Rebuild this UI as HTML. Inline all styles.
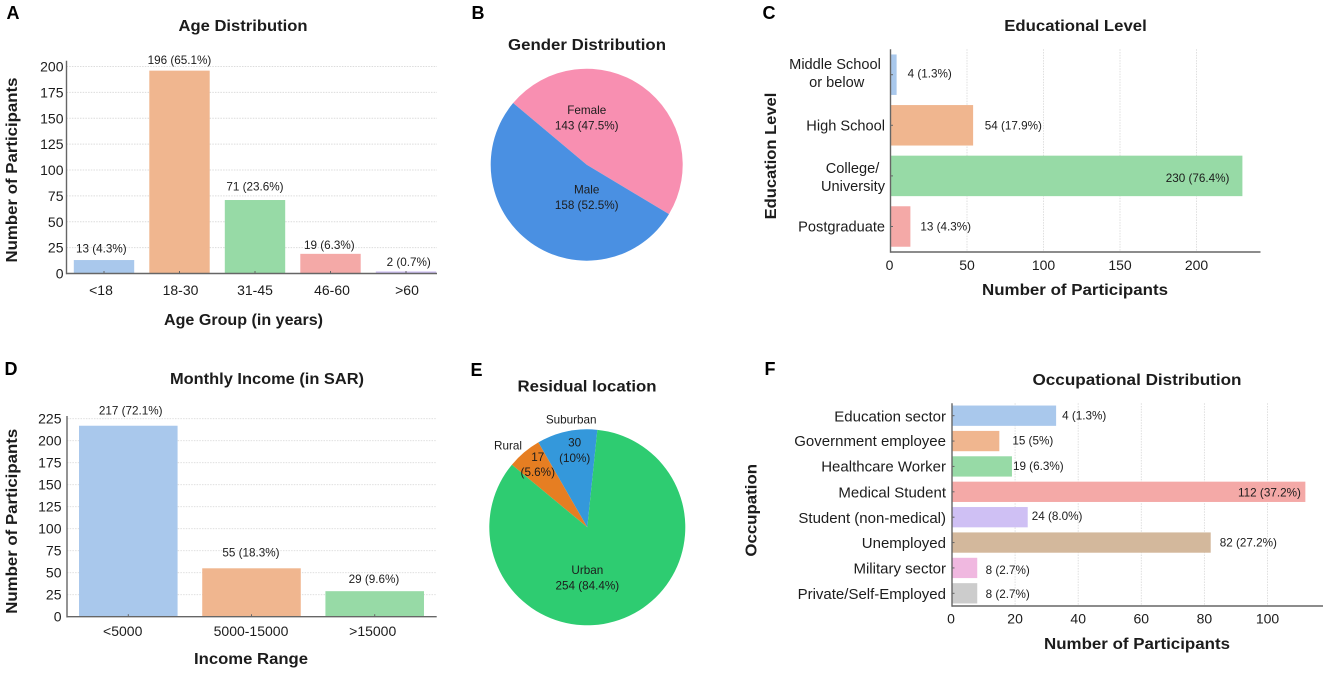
<!DOCTYPE html>
<html lang="en">
<head>
<meta charset="utf-8">
<title>Participant demographics</title>
<style>
html,body{margin:0;padding:0;background:#fff;width:1325px;height:673px;overflow:hidden}
svg{display:block;font-family:"Liberation Sans",Arial,sans-serif}
</style>
</head>
<body>
<svg id="fig" width="1325" height="673" viewBox="0 0 1325 673" xmlns="http://www.w3.org/2000/svg"></svg>
<script>
// Panel A
const ageCategories = ['<18', '18-30', '31-45', '46-60', '>60'];
const ageCounts = [13, 196, 71, 19, 2];
const ageLabels = ['13 (4.3%)', '196 (65.1%)', '71 (23.6%)', '19 (6.3%)', '2 (0.7%)'];
const ageTicks = [0, 25, 50, 75, 100, 125, 150, 175, 200];
// Panel B
const genderCategories = ['Female', 'Male'];
const genderCounts = [143, 158];
const genderLabels = ['143 (47.5%)', '158 (52.5%)'];
// Panel C
const eduCategories = [['Middle School', 'or below'], ['High School'], ['College/', 'University'], ['Postgraduate']];
const eduCounts = [4, 54, 230, 13];
const eduLabels = ['4 (1.3%)', '54 (17.9%)', '230 (76.4%)', '13 (4.3%)'];
const eduTicks = [0, 50, 100, 150, 200];
// Panel D
const incomeCategories = ['<5000', '5000-15000', '>15000'];
const incomeCounts = [217, 55, 29];
const incomeLabels = ['217 (72.1%)', '55 (18.3%)', '29 (9.6%)'];
const incomeTicks = [0, 25, 50, 75, 100, 125, 150, 175, 200, 225];
// Panel E
const locationCategories = ['Suburban', 'Rural', 'Urban'];
const locationCounts = [30, 17, 254];
const locationLabels = [['30', '(10%)'], ['17', '(5.6%)'], ['254 (84.4%)']];
// Panel F
const occCategories = [['Education sector'], ['Government employee'], ['Healthcare Worker'], ['Medical Student'], ['Student (non-medical)'], ['Unemployed'], ['Military sector'], ['Private/Self-Employed']];
const occCounts = [33, 15, 19, 112, 24, 82, 8, 8];
const occLabels = ['4 (1.3%)', '15 (5%)', '19 (6.3%)', '112 (37.2%)', '24 (8.0%)', '82 (27.2%)', '8 (2.7%)', '8 (2.7%)'];
const occTicks = [0, 20, 40, 60, 80, 100];

const NS = 'http://www.w3.org/2000/svg';
const BAR_COLORS = ['#A9C8EC', '#F0B68F', '#97DAA6', '#F4A9A7', '#CFC0F4', '#D3B89C', '#F0B8E0', '#CCCCCC'];
const AXIS = '#666666', GRID = '#dcdcdc', INK = '#1c1c1c';
const fig = document.getElementById('fig');

function make(parent, tag, name) {
  const el = document.createElementNS(NS, tag);
  
  
  parent.appendChild(el);
  return el;
}
function panel(name) { return make(fig, 'g', name); }
function setAll(el, props) { for (const k in props) el.setAttribute(k, props[k]); return el; }
function text(parent, name, str, x, y, size, o) {
  o = o || {};
  const el = make(parent, 'text', name);
  setAll(el, { x: x, y: y, 'font-size': size, fill: o.fill || INK, 'text-anchor': o.anchor || 'middle' });
  if (o.bold) el.setAttribute('font-weight', 'bold');
  if (o.len) { el.setAttribute('textLength', o.len); el.setAttribute('lengthAdjust', 'spacingAndGlyphs'); }
  if (o.rotate) el.setAttribute('transform', 'rotate(-90 ' + x + ' ' + y + ')');
  el.textContent = str;
  return el;
}
function line(parent, name, x1, y1, x2, y2, stroke, width, dash) {
  const el = make(parent, 'line', name);
  setAll(el, { x1: x1, y1: y1, x2: x2, y2: y2, stroke: stroke, 'stroke-width': width });
  if (dash) el.setAttribute('stroke-dasharray', dash);
  return el;
}
function rect(parent, name, x, y, w, h, fill) {
  const el = make(parent, 'rect', name);
  setAll(el, { x: x, y: y, width: w, height: h, fill: fill });
  return el;
}

function columnChart(g, c) {
  const y = v => c.y0 - v * c.pxPerUnit;
  const step = (c.xEnd - c.xStart) / c.categories.length;
  const cx = i => c.xStart + step * (i + 0.5);
  c.ticks.forEach(t => {
    if (t > 0) line(g, 'y-gridline-' + t, c.axisX, y(t), c.axisEnd, y(t), GRID, 0.9, '1.5 1.2');
    text(g, 'y-tick-label-' + t, String(t), c.tickRight, y(t) + 5, 14, { anchor: 'end' });
  });
  c.values.forEach((v, i) => {
    const w = step * 0.8;
    rect(g, 'bar-' + c.categories[i], cx(i) - w / 2, y(v), w, v * c.pxPerUnit, BAR_COLORS[i]);
    line(g, 'x-tick-' + c.categories[i], cx(i), c.y0 - 2.5, cx(i), c.y0, AXIS, 1);
    text(g, 'value-label-' + c.categories[i], c.labels[i], cx(i) + c.valueDx[i], y(v) - c.valueGap[i], 11.7);
    text(g, 'x-tick-label-' + c.categories[i], c.categories[i], cx(i) + c.catDx[i], c.catBaseline, 14);
  });
  line(g, 'y-axis-line', c.axisX, c.axisTop, c.axisX, c.y0 + 0.8, AXIS, 1.4);
  line(g, 'x-axis-line', c.axisX, c.y0, c.axisEnd, c.y0, AXIS, 1.4);
}

function barChart(g, c) {
  const x = v => c.x0 + v * c.pxPerUnit;
  const step = (c.yEnd - c.yStart) / c.categories.length;
  const cy = i => c.yStart + step * (i + 0.5);
  c.ticks.forEach(t => {
    if (t > 0) line(g, 'x-gridline-' + t, x(t), c.axisTop, x(t), c.axisBottom, GRID, 0.9, '1.5 1.2');
    text(g, 'x-tick-label-' + t, String(t), x(t) - (t === 0 ? 1 : 0), c.tickBaseline, 14);
  });
  c.values.forEach((v, i) => {
    const h = step * 0.8;
    const cat = c.categories[i];
    rect(g, 'bar-' + cat.join('-'), c.x0, cy(i) - h / 2, v * c.pxPerUnit, h, BAR_COLORS[i]);
    line(g, 'y-tick-' + cat.join('-'), c.x0, cy(i), c.x0 + 2.5, cy(i), AXIS, 1);
    const gap = c.valueGap[i];
    text(g, 'value-label-' + cat.join('-'), c.labels[i], x(v) + gap, cy(i) + 4 + c.valueDy[i], 11.7, { anchor: gap < 0 ? 'end' : 'start' });
    cat.forEach((part, k) => {
      const yy = cy(i) + 5 + c.catDy[i] + (k - (cat.length - 1) / 2) * 18.3;
      if (c.catCenter && c.catCenter[part] !== undefined) {
        text(g, 'y-tick-label-' + part, part, c.catCenter[part], yy, c.catSize);
      } else {
        text(g, 'y-tick-label-' + part, part, c.catRight, yy, c.catSize, { anchor: 'end' });
      }
    });
  });
  line(g, 'y-axis-line', c.x0, c.axisTop, c.x0, c.axisBottom + 0.8, AXIS, 1.4);
  line(g, 'x-axis-line', c.x0, c.axisBottom, c.axisEnd, c.axisBottom, AXIS, 1.4);
}

function pieChart(g, c) {
  const total = c.values.reduce((a, b) => a + b, 0);
  let a = c.startDeg;
  c.values.forEach((v, i) => {
    const sweep = v / total * 360;
    const a0 = a * Math.PI / 180, a1 = (a + sweep) * Math.PI / 180, mid = (a + sweep / 2) * Math.PI / 180;
    const path = make(g, 'path', 'slice-' + c.categories[i]);
    path.setAttribute('d', 'M' + c.cx + ' ' + c.cy +
      'L' + (c.cx + c.r * Math.cos(a0)) + ' ' + (c.cy - c.r * Math.sin(a0)) +
      'A' + c.r + ' ' + c.r + ' 0 ' + (sweep > 180 ? 1 : 0) + ' 0 ' +
      (c.cx + c.r * Math.cos(a1)) + ' ' + (c.cy - c.r * Math.sin(a1)) + 'Z');
    path.setAttribute('fill', c.colors[i]);
    c.marks.push({ mid: mid, i: i });
    a += sweep;
  });
  c.marks.forEach(m => {
    const i = m.i;
    const lx = c.cx + c.innerR * c.r * Math.cos(m.mid) + c.inNudge[i][0];
    const ly = c.cy - c.innerR * c.r * Math.sin(m.mid) + c.inNudge[i][1];
    const lines = c.inside[i];
    lines.forEach((s, k) => {
      text(g, 'slice-label-' + c.categories[i] + '-' + k, s, lx, ly + (k - (lines.length - 1) / 2) * 15.2, 11.7);
    });
    if (c.outNudge && c.outNudge[i]) {
      const ox = c.cx + 1.1 * c.r * Math.cos(m.mid) + c.outNudge[i][0];
      const oy = c.cy - 1.1 * c.r * Math.sin(m.mid) + c.outNudge[i][1];
      text(g, 'slice-name-' + c.categories[i], c.categories[i], ox, oy, 11.7);
    }
  });
}

/* ---------- Panel A ---------- */
const gA = panel('panel-a-age-distribution');
text(gA, 'panel-letter-a', 'A', 13, 19, 18, { bold: true, fill: '#000' });
text(gA, 'chart-title', 'Age Distribution', 243, 31, 16, { bold: true, len: 129 });
columnChart(gA, {
  categories: ageCategories, values: ageCounts, labels: ageLabels, ticks: ageTicks,
  y0: 273.5, pxPerUnit: 1.035, xStart: 66.25, xEnd: 443.75, axisX: 66.5, axisEnd: 437, axisTop: 60.7,
  tickRight: 63.5, catBaseline: 295,
  valueGap: [7.3, 6.5, 9.3, 5, 5.4], valueDx: [-2.7, 0, 0, -1.2, 2.7], catDx: [-3, 1, 0, 1.5, 1]
});
text(gA, 'x-axis-title', 'Age Group (in years)', 243.5, 325, 16, { bold: true, len: 159 });
text(gA, 'y-axis-title', 'Number of Participants', 17, 170, 16, { bold: true, rotate: true, len: 185 });

/* ---------- Panel B ---------- */
const gB = panel('panel-b-gender-distribution');
text(gB, 'panel-letter-b', 'B', 478, 19, 18, { bold: true, fill: '#000' });
text(gB, 'chart-title', 'Gender Distribution', 587, 50, 16, { bold: true, len: 158 });
pieChart(gB, {
  categories: genderCategories, values: genderCounts, marks: [],
  inside: genderCategories.map((n, i) => [n, genderLabels[i]]),
  colors: ['#F88FB1', '#4A90E2'], cx: 586.7, cy: 164.7, r: 96, startDeg: -31, innerR: 0.6,
  inNudge: [[-33.4, 3.9], [33.4, -10.4]]
});

/* ---------- Panel C ---------- */
const gC = panel('panel-c-educational-level');
text(gC, 'panel-letter-c', 'C', 769, 19, 18, { bold: true, fill: '#000' });
text(gC, 'chart-title', 'Educational Level', 1075.5, 31, 16, { bold: true, len: 142.5 });
barChart(gC, {
  categories: eduCategories, values: eduCounts, labels: eduLabels, ticks: eduTicks,
  x0: 890.5, pxPerUnit: 1.53, yStart: 49.4, yEnd: 251.8, axisTop: 49.3, axisBottom: 252, axisEnd: 1260.5,
  tickBaseline: 270, catRight: 885, catSize: 14.6,
  catCenter: { 'Middle School': 835, 'or below': 836.7, 'College/': 852.5 },
  catDy: [-1.8, 0, 1, 0],
  valueGap: [11, 11.6, -13, 10], valueDy: [-1, 0.4, 2, 0]
});
text(gC, 'x-axis-title', 'Number of Participants', 1075, 295, 16, { bold: true, len: 186 });
text(gC, 'y-axis-title', 'Education Level', 776, 156, 16, { bold: true, rotate: true, len: 126.7 });

/* ---------- Panel D ---------- */
const gD = panel('panel-d-monthly-income');
text(gD, 'panel-letter-d', 'D', 11, 375, 18, { bold: true, fill: '#000' });
text(gD, 'chart-title', 'Monthly Income (in SAR)', 267, 384, 16, { bold: true, len: 194 });
columnChart(gD, {
  categories: incomeCategories, values: incomeCounts, labels: incomeLabels, ticks: incomeTicks,
  y0: 616.7, pxPerUnit: 0.88, xStart: 66.7, xEnd: 436.3, axisX: 67, axisEnd: 436.7, axisTop: 416,
  tickRight: 61.5, catBaseline: 636,
  valueGap: [11.4, 11.6, 8], valueDx: [2.4, -0.5, -0.7], catDx: [-5.6, -0.5, -2]
});
text(gD, 'x-axis-title', 'Income Range', 251, 664, 16, { bold: true, len: 114 });
text(gD, 'y-axis-title', 'Number of Participants', 17, 521.3, 16, { bold: true, rotate: true, len: 185 });

/* ---------- Panel E ---------- */
const gE = panel('panel-e-residual-location');
text(gE, 'panel-letter-e', 'E', 476.5, 376, 18, { bold: true, fill: '#000' });
text(gE, 'chart-title', 'Residual location', 587, 391.7, 16, { bold: true, len: 139 });
pieChart(gE, {
  categories: locationCategories, values: locationCounts, marks: [],
  inside: [locationLabels[0], locationLabels[1], [locationCategories[2], locationLabels[2][0]]],
  colors: ['#3498DB', '#E67E22', '#2ECC71'], cx: 587.3, cy: 527.3, r: 98, startDeg: 84.1, innerR: 0.7,
  inNudge: [[1.7, -5.9], [-5.3, -6.5], [-25.9, -9]],
  outNudge: [[6.4, 1.4], [-9.8, 4.4], null]
});

/* ---------- Panel F ---------- */
const gF = panel('panel-f-occupational-distribution');
text(gF, 'panel-letter-f', 'F', 770, 375, 18, { bold: true, fill: '#000' });
text(gF, 'chart-title', 'Occupational Distribution', 1137, 385, 16, { bold: true, len: 209 });
barChart(gF, {
  categories: occCategories, values: occCounts, labels: occLabels, ticks: occTicks,
  x0: 952, pxPerUnit: 3.155, yStart: 403, yEnd: 606, axisTop: 403.3, axisBottom: 606, axisEnd: 1323,
  tickBaseline: 623.3, catRight: 946, catSize: 15,
  catDy: [0.6, 0, 0, 0.8, 0.8, 0.6, 0.6, 0.6],
  valueGap: [6, 13, 1, -4.5, 4, 9, 8.4, 8.4], valueDy: [-0.4, -0.6, -0.6, 0.6, -1.3, 0, 2, 0.6]
});
text(gF, 'x-axis-title', 'Number of Participants', 1137, 649, 16, { bold: true, len: 186 });
text(gF, 'y-axis-title', 'Occupation', 756.5, 510.3, 16, { bold: true, rotate: true, len: 92.7 });
</script>
</body>
</html>
